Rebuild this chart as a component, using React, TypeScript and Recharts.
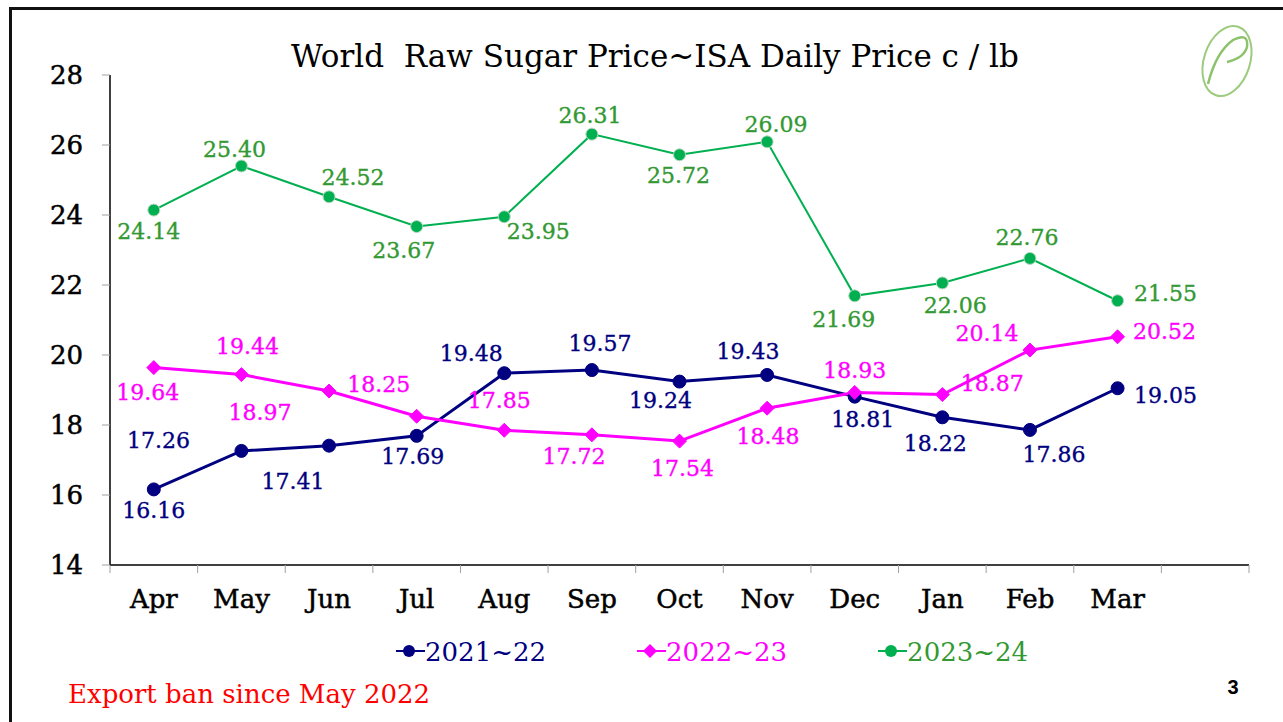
import React from 'react';
import { LineChart, Line, XAxis, YAxis, LabelList, Legend } from 'recharts';

const MONTHS = ['Apr', 'May', 'Jun', 'Jul', 'Aug', 'Sep', 'Oct', 'Nov', 'Dec', 'Jan', 'Feb', 'Mar'];
const SEASONS = ['2021~22', '2022~23', '2023~24'];
const PRICES_2021_22 = [16.16, 17.26, 17.41, 17.69, 19.48, 19.57, 19.24, 19.43, 18.81, 18.22, 17.86, 19.05];
const PRICES_2022_23 = [19.64, 19.44, 18.97, 18.25, 17.85, 17.72, 17.54, 18.48, 18.93, 18.87, 20.14, 20.52];
const PRICES_2023_24 = [24.14, 25.40, 24.52, 23.67, 23.95, 26.31, 25.72, 26.09, 21.69, 22.06, 22.76, 21.55];
const Y_TICKS = [14, 16, 18, 20, 22, 24, 26, 28];
// one empty slot after Mar, like the original sheet
const SLOTS = MONTHS.length + 1;

const data = MONTHS.map((m, i) => ({
  idx: i,
  month: m,
  s1: PRICES_2021_22[i],
  s2: PRICES_2022_23[i],
  s3: PRICES_2023_24[i],
}));

const X_TICKS: number[] = [];
for (let i = 0; i < SLOTS; i++) {
  X_TICKS.push(i - 0.5);
  if (i < MONTHS.length) X_TICKS.push(i);
}
X_TICKS.push(SLOTS - 0.5);

const FONT = '"DejaVu Serif", serif';
const NAVY = '#000080';
const MAGENTA = '#FF00FF';
const GREEN = '#00B050';
const GREEN_TEXT = '#339933';

// label offsets [dx, dy] from each point (Excel-style hand-placed labels)
const OFF_1 = [[0, 21], [-83, -10], [-36, 36], [-4, 21], [-33, -20], [8, -27], [-19, 19], [-19, -23], [8, 23], [-7, 26], [24, 25], [48, 7]];
const OFF_2 = [[-6, 25], [6, -28], [-69, 21], [-38, -32], [-5, -30], [-18, 22], [3, 27], [1, 28], [0, -22], [50, -11], [-43, -17], [47, -5]];
const OFF_3 = [[-5, 21], [-7, -17], [24, -19], [-13, 24], [34, 15], [-2, -19], [-1, 21], [9, -17], [-11, 24], [13, 23], [-3, -21], [48, -7]];

const makeLabel = (offsets: number[][], color: string) => (props: any) => {
  const { x, y, value, index } = props;
  const [dx, dy] = offsets[index] || [0, -20];
  return (
    <text
      key={`l-${index}`}
      x={Number(x) + dx}
      y={Number(y) + dy}
      fill={color}
      stroke={color}
      strokeWidth={0.35}
      fontSize={22}
      fontFamily={FONT}
      textAnchor="middle"
      dominantBaseline="central"
    >
      {Number(value).toFixed(2)}
    </text>
  );
};

const Diamond = (props: any) => {
  const { cx, cy, index } = props;
  if (cx == null || cy == null) return null;
  const r = 7;
  return (
    <path
      key={`dm-${index}`}
      d={`M${cx},${cy - r} L${cx + r},${cy} L${cx},${cy + r} L${cx - r},${cy} Z`}
      fill={MAGENTA}
      stroke={MAGENTA}
    />
  );
};

const XTick = (props: any) => {
  const { x, y, payload } = props;
  const v = payload.value;
  if (Number.isInteger(v)) {
    return (
      <text x={x} y={y + 43} textAnchor="middle" fontSize={26} fontFamily={FONT} fill="#000" stroke="#000" strokeWidth={0.5}>
        {MONTHS[v] ?? ''}
      </text>
    );
  }
  return <line x1={x} y1={y} x2={x} y2={y + 8} stroke="#a0a0a0" strokeWidth={1} />;
};

const LEGEND_META = [
  { name: SEASONS[0], color: NAVY, text: NAVY, marker: 'circle' },
  { name: SEASONS[1], color: MAGENTA, text: MAGENTA, marker: 'diamond' },
  { name: SEASONS[2], color: GREEN, text: GREEN_TEXT, marker: 'circle' },
];

const renderLegend = () => (
  <div style={{ display: 'flex', gap: 91, paddingLeft: 396 }}>
    {LEGEND_META.map((m) => (
      <div key={m.name} style={{ display: 'flex', alignItems: 'center' }}>
        <svg width={29} height={20}>
          <line x1={0} y1={10} x2={29} y2={10} stroke={m.color} strokeWidth={2} />
          {m.marker === 'circle' ? (
            <circle cx={13} cy={10} r={6} fill={m.color} />
          ) : (
            <path d="M13,3 L20,10 L13,17 L6,10 Z" fill={m.color} />
          )}
        </svg>
        <span style={{ fontFamily: FONT, fontSize: 26, color: m.text, lineHeight: '30px', marginTop: 3 }}>{m.name}</span>
      </div>
    ))}
  </div>
);

const App: React.FC = () => {
  return (
    <div style={{ position: 'absolute', left: 0, top: 0, width: 1283, height: 722, background: '#fff', overflow: 'hidden' }}>
      <div
        style={{
          position: 'absolute',
          left: 9,
          top: 7,
          right: -5,
          bottom: -5,
          borderTop: '3px solid #111',
          borderLeft: '3px solid #111',
        }}
      />
      <div style={{ position: 'absolute', left: 0, top: 0 }}>
        <LineChart width={1283} height={722} data={data} margin={{ top: 75, right: 34, bottom: 117, left: 50 }}>
          <XAxis
            dataKey="idx"
            type="number"
            domain={[-0.5, SLOTS - 0.5]}
            ticks={X_TICKS}
            interval={0}
            height={40}
            tickSize={0}
            tickMargin={0}
            tickLine={false}
            axisLine={{ stroke: '#000', strokeWidth: 1.5 }}
            tick={<XTick />}
          />
          <YAxis
            domain={[14, 28]}
            ticks={Y_TICKS}
            interval={0}
            width={60}
            tickSize={8}
            tickMargin={19}
            tickLine={{ stroke: '#a0a0a0' }}
            axisLine={{ stroke: '#000', strokeWidth: 1.5 }}
            tick={{ fontSize: 26, fontFamily: FONT, fill: '#000', stroke: '#000', strokeWidth: 0.5 }}
          />
          <Legend
            layout="horizontal"
            verticalAlign="middle"
            align="center"
            wrapperStyle={{ top: 634, left: 0, width: 1283 }}
            content={renderLegend}
          />
          <Line
            dataKey="s1"
            name={SEASONS[0]}
            stroke={NAVY}
            strokeWidth={3}
            dot={{ r: 6.5, fill: NAVY, stroke: NAVY, strokeWidth: 1 }}
            isAnimationActive={false}
          >
            <LabelList dataKey="s1" content={makeLabel(OFF_1, NAVY)} />
          </Line>
          <Line
            dataKey="s2"
            name={SEASONS[1]}
            stroke={MAGENTA}
            strokeWidth={3}
            dot={<Diamond />}
            isAnimationActive={false}
          >
            <LabelList dataKey="s2" content={makeLabel(OFF_2, MAGENTA)} />
          </Line>
          <Line
            dataKey="s3"
            name={SEASONS[2]}
            stroke={GREEN}
            strokeWidth={2}
            dot={{ r: 6, fill: GREEN, stroke: '#b8d8c0', strokeWidth: 1 }}
            isAnimationActive={false}
          >
            <LabelList dataKey="s3" content={makeLabel(OFF_3, GREEN_TEXT)} />
          </Line>
        </LineChart>
      </div>
      <svg width={1283} height={722} style={{ position: 'absolute', left: 0, top: 0, pointerEvents: 'none' }}>
        <text x={655} y={67} textAnchor="middle" fontSize={31} fontFamily={FONT} fill="#000" style={{ whiteSpace: 'pre' }}>
          {'World  Raw Sugar Price~ISA Daily Price c / lb'}
        </text>
        <g transform="rotate(18 1227 61)">
          <ellipse cx={1227} cy={61} rx={23} ry={36} fill="none" stroke="#9ccb7e" strokeWidth={2} />
        </g>
        <path d="M1208,84 Q1216,52 1233,40 Q1249,32 1247,47 Q1244,58 1227,62" fill="none" stroke="#8cc26a" strokeWidth={2.5} />
        <text x={68} y={703} fontSize={26} fontFamily={FONT} fill="#FF0000">
          Export ban since May 2022
        </text>
        <text x={1233} y={694} textAnchor="middle" fontSize={20} fontWeight="bold" fontFamily='"Liberation Sans", Arial, sans-serif' fill="#000">
          3
        </text>
      </svg>
    </div>
  );
};

export default App;
